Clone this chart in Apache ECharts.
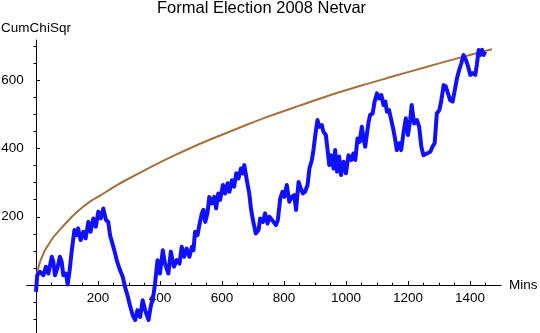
<!DOCTYPE html>
<html>
<head>
<meta charset="utf-8">
<script src="https://cdn.jsdelivr.net/npm/echarts@6/dist/echarts.min.js"></script>
<style>html,body{margin:0;padding:0;background:#fff}#c{width:540px;height:333px}</style>
</head>
<body>
<div id="c"></div>
<script>
var titleText = 'Formal Election 2008 Netvar';
var xName = 'Mins';
var yName = 'CumChiSqr';
var xMajorTicks = [200, 400, 600, 800, 1000, 1200, 1400];
var xMinorTicks = [50, 100, 150, 250, 300, 350, 450, 500, 550, 650, 700, 750, 850, 900, 950, 1050, 1100, 1150, 1250, 1300, 1350, 1450];
var yMajorTicks = [200, 400, 600];
var yMinorTicks = [-100, -50, 50, 100, 150, 250, 300, 350, 450, 500, 550, 650, 700];

var netvarMins = [0,4,13,24,32,40,51,56,61,69,77,83,88,97,102,108,115,124,131,136,144,153,160,169,176,185,193,201,209,217,226,233,239,248,255,262,271,280,287,295,303,312,320,327,336,344,352,363,370,379,384,392,400,409,416,427,435,445,454,463,470,478,486,495,503,508,513,521,527,535,540,546,553,559,567,575,581,588,594,603,610,618,624,632,639,646,653,661,667,672,680,688,694,701,709,718,723,732,739,747,753,759,766,774,780,788,795,801,809,817,825,833,839,847,854,861,868,876,882,890,895,901,908,914,922,927,935,940,946,952,960,965,971,978,984,992,1000,1008,1017,1024,1030,1037,1044,1051,1057,1062,1067,1073,1078,1086,1092,1100,1107,1114,1121,1127,1132,1139,1146,1153,1159,1164,1172,1178,1186,1193,1200,1207,1212,1220,1229,1236,1243,1250,1261,1272,1279,1286,1293,1301,1307,1315,1322,1329,1336,1344,1350,1358,1365,1372,1379,1387,1394,1401,1408,1417,1422,1428,1433,1439,1444,1449];
var netvarValues = [-20,29,39,29,54,34,83,68,29,49,83,68,29,34,2,39,98,161,146,166,132,156,137,185,156,195,171,215,195,224,190,185,146,117,93,68,44,24,-5,-29,-59,-88,-102,-73,-93,-44,-73,-102,-63,-29,5,73,34,102,63,34,98,54,73,63,112,83,107,83,112,102,156,146,176,210,220,185,210,258,239,258,224,268,249,293,268,298,273,307,288,327,312,341,327,351,307,268,220,185,151,161,195,185,210,180,200,200,185,176,190,254,273,258,293,244,258,263,220,302,283,268,273,293,341,366,395,439,483,463,468,449,439,400,351,380,341,395,332,376,322,361,327,380,366,385,366,429,419,463,424,405,439,478,498,502,536,561,546,556,527,537,507,512,483,454,424,395,415,395,449,488,439,483,527,473,483,463,405,380,385,390,405,415,502,512,537,585,581,561,541,537,566,605,629,649,673,658,639,615,620,615,644,688,673,688,673,683];

var boundMins = [0,3,8,13,20,29,40,56,75,99,125,153,180,207,260,325,384,450,520,600,680,755,850,950,1050,1150,1250,1350,1471];
var boundValues = [0,32,52,68,84,102,118,140,160,184,208,230,248,262,292,324,352,381,410,440,469,495,525,556,584,610,636,661,690];

function pairs(xs, ys) { return xs.map(function (x, i) { return [x, ys[i]]; }); }
function plain(v) { return String(v); }

var FONT = 'Liberation Sans';
var X_MIN = -30, X_MAX = 1500, Y_MIN = -140, Y_MAX = 717;
var GRID_TOP = 40, GRID_BOTTOM = 0, CHART_H = 333;
var plotH = CHART_H - GRID_TOP - GRID_BOTTOM;
// shift the bottom x axis up so that it sits on y = 0 (labels follow it)
var xAxisOffset = -(Y_MIN - 0) / (Y_MIN - Y_MAX) * plotH;
xAxisOffset = -(0 - Y_MIN) / (Y_MAX - Y_MIN) * plotH;

var chart = echarts.init(document.getElementById('c'), null, { renderer: 'canvas' });
chart.setOption({
  animation: false,
  backgroundColor: '#ffffff',
  title: {
    text: titleText,
    left: 157, top: 0, padding: 0,
    textStyle: { fontFamily: FONT, fontSize: 16.5, fontWeight: 'normal', color: '#000' }
  },
  grid: {
    left: 26.7, right: 39, top: GRID_TOP, bottom: GRID_BOTTOM, containLabel: false,
    outerBoundsMode: 'none'
  },
  xAxis: [{
    type: 'value', min: X_MIN, max: X_MAX, position: 'bottom', offset: xAxisOffset,
    name: xName, nameLocation: 'end', nameGap: 8,
    nameTextStyle: { fontFamily: FONT, fontSize: 13.5, color: '#000' },
    axisLine: { show: true, onZero: false, lineStyle: { color: '#000', width: 1 } },
    axisTick: { show: true, inside: true, length: 4, customValues: xMajorTicks, lineStyle: { color: '#000' } },
    axisLabel: { show: true, customValues: xMajorTicks, formatter: plain, margin: 6, fontFamily: FONT, fontSize: 13.5, color: '#000' },
    splitLine: { show: false }
  }, {
    type: 'value', min: X_MIN, max: X_MAX, position: 'bottom', offset: xAxisOffset,
    axisLine: { show: false, onZero: false },
    axisTick: { show: true, inside: true, length: 2.5, customValues: xMinorTicks, lineStyle: { color: '#000' } },
    axisLabel: { show: false },
    splitLine: { show: false }
  }],
  yAxis: [{
    type: 'value', min: Y_MIN, max: Y_MAX,
    name: yName, nameLocation: 'end', nameGap: 5,
    nameTextStyle: { fontFamily: FONT, fontSize: 13.5, color: '#000' },
    axisLine: { show: true, onZero: true, lineStyle: { color: '#000', width: 1 } },
    axisTick: { show: true, inside: true, length: 4, customValues: yMajorTicks, lineStyle: { color: '#000' } },
    axisLabel: { show: true, customValues: yMajorTicks, formatter: plain, margin: 3, fontFamily: FONT, fontSize: 13.5, color: '#000' },
    splitLine: { show: false }
  }, {
    type: 'value', min: Y_MIN, max: Y_MAX,
    axisLine: { show: false, onZero: true },
    axisTick: { show: true, inside: true, length: 2.5, customValues: yMinorTicks, lineStyle: { color: '#000' } },
    axisLabel: { show: false },
    splitLine: { show: false }
  }],
  series: [{
    type: 'line', xAxisIndex: 0, yAxisIndex: 0,
    data: pairs(boundMins, boundValues),
    smooth: 0.3, showSymbol: false, silent: true,
    lineStyle: { color: '#a6703c', width: 2 }
  }, {
    type: 'line', xAxisIndex: 0, yAxisIndex: 0,
    data: pairs(netvarMins, netvarValues),
    showSymbol: false, silent: true,
    lineStyle: { color: '#1010ff', width: 4, join: 'round' }
  }]
});
</script>
</body>
</html>
